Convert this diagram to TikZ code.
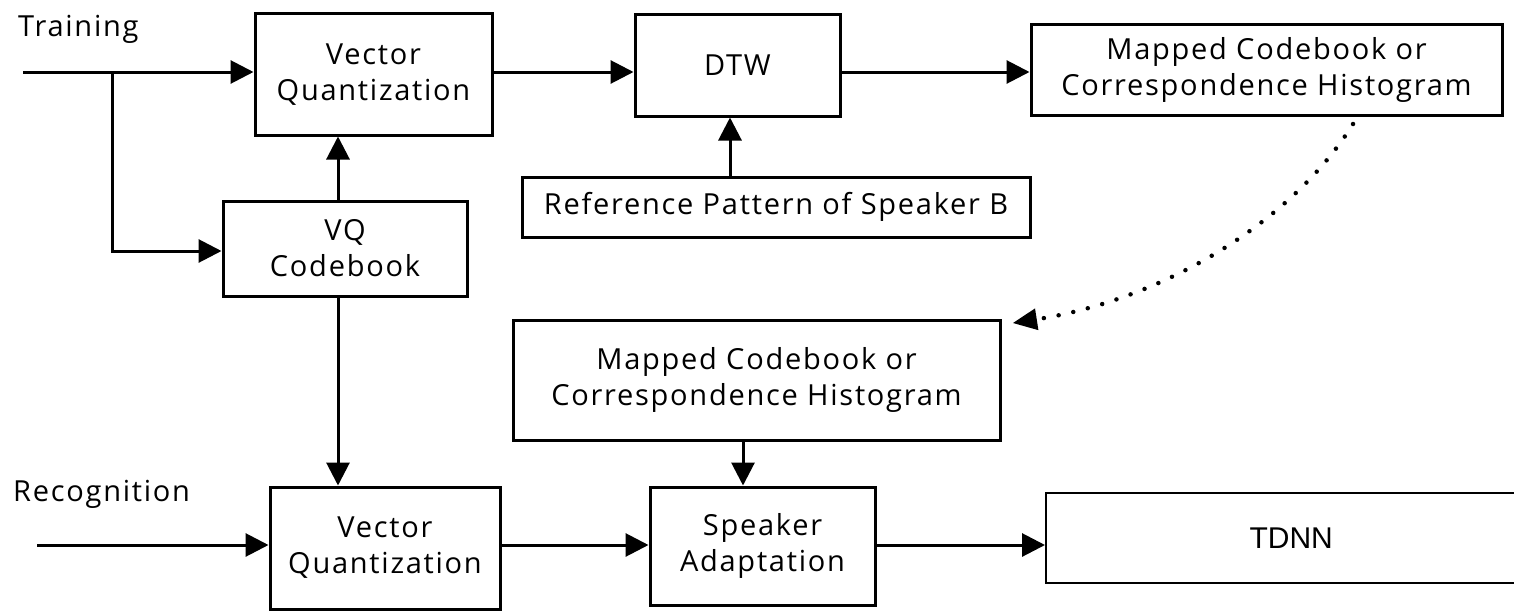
\documentclass[tikz,border=0pt]{standalone}
\usepackage{fontspec}
\setmainfont[LetterSpace=6]{Open Sans}
\newfontfamily\helv{Liberation Sans}
\usetikzlibrary{arrows.meta}
\begin{document}
\begin{tikzpicture}[x=1pt,y=-1pt,
  box/.style={draw,line width=3pt,inner sep=0pt,align=center,
    font=\fontsize{29}{36}\selectfont},
  arr/.style={line width=3pt,-{Triangle[length=23pt,width=23pt]}},
  lbl/.style={font=\fontsize{29}{36}\selectfont,inner sep=0pt}]
\useasboundingbox (0,0) rectangle (1514,610);
\clip (0,0) rectangle (1514,610);
% boxes
\node[box,minimum width=237pt,minimum height=121pt] (vq1) at (373.5,74.5) {Vector\\Quantization};
\node[box,minimum width=205pt,minimum height=101pt] (dtw) at (737.5,65.5) {DTW};
\node[box,minimum width=471pt,minimum height=90pt] (map1) at (1266.5,70) {Mapped Codebook or\\Correspondence Histogram};
\node[box,minimum width=508pt,minimum height=60pt] (ref) at (776,207) {Reference Pattern of Speaker B};
\node[box,minimum width=244pt,minimum height=95pt] (cb) at (345,248.5) {VQ\\Codebook};
\node[box,minimum width=487pt,minimum height=120pt] (map2) at (756.5,380) {Mapped Codebook or\\Correspondence Histogram};
\node[box,minimum width=230pt,minimum height=122pt] (vq2) at (385,548) {Vector\\Quantization};
\node[box,minimum width=225pt,minimum height=118pt] (spk) at (762.5,546) {Speaker\\Adaptation};
\node[box,line width=2.4pt,minimum width=500pt,minimum height=90pt,anchor=west,font=\helv\fontsize{30}{36}\selectfont] (tdnn) at (1045,538) {\hspace*{-10pt}TDNN};
% labels
\node[lbl,anchor=base west] (train) at (18,37) {Training};
\node[lbl,anchor=base west] (recog) at (13,501) {Recognition};
% input coordinates
\coordinate (tin) at (23,72);
\coordinate (split) at (112,72);
\coordinate (rin) at (37,545);
% training connectors
\draw[arr] (tin) -- (vq1.west |- tin);
\draw[arr] (split) |- (cb.west |- 0,251);
\draw[arr] (cb.north -| 338,0) -- (vq1.south -| 338,0);
\draw[arr] (vq1.east |- 0,72) -- (dtw.west |- 0,72);
\draw[arr] (dtw.east |- 0,72) -- (map1.west |- 0,72);
\draw[arr] (ref.north -| 730,0) -- (dtw.south -| 730,0);
% recognition connectors
\draw[arr] (cb.south -| 338,0) -- (vq2.north -| 338,0);
\draw[arr] (rin) -- (vq2.west |- rin);
\draw[arr] (vq2.east |- 0,545) -- (spk.west |- 0,545);
\draw[arr] (map2.south -| 743,0) -- (spk.north -| 743,0);
\draw[arr] (spk.east |- 0,545) -- (tdnn.west |- 0,545);
% dotted mapping arrow
\coordinate (dstart) at (1353,124);
\coordinate (dend) at (1013,323);
\draw[line width=4.5pt,line cap=round,dash pattern=on 0pt off 15pt,
  -{Triangle[length=24pt,width=22pt,line cap=butt,line width=0pt]}]
  (dstart) .. controls (1290,225) and (1160,300) .. (dend);
\end{tikzpicture}
\end{document}
